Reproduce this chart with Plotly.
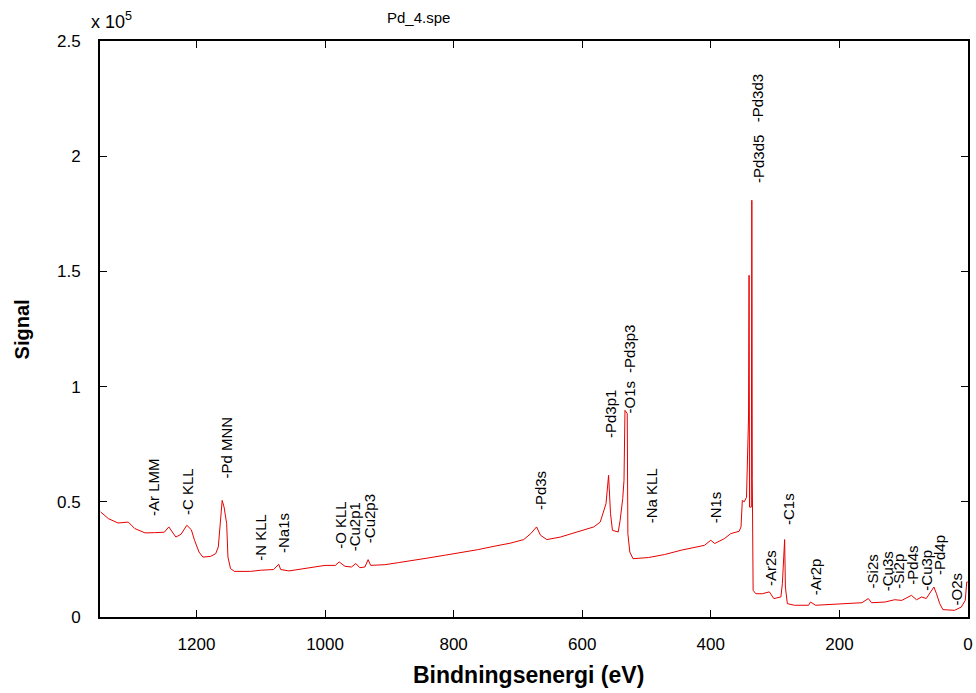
import plotly.graph_objects as go

# Spectrum: binding energy (eV) and signal (counts)
energy = [1349, 1337, 1322, 1306, 1296, 1280, 1265, 1250, 1243, 1237, 1232, 1224,
          1215, 1208, 1203, 1196, 1190, 1178, 1170, 1166, 1163, 1160, 1157, 1153,
          1151, 1147, 1141, 1116, 1100, 1080, 1072, 1069, 1056, 1041, 1020, 1000,
          984, 978, 969, 959, 952, 946, 938, 933, 929, 907, 886, 866, 840, 814,
          789, 763, 737, 711, 691, 680, 671, 665, 655, 634, 608, 582, 572, 567,
          563, 559, 558, 556, 553, 544, 541, 537, 535, 533.5, 530, 529, 526, 521,
          497, 472, 446, 420, 410, 400, 394, 379, 369, 356, 353, 351, 348, 344.5,
          341.3, 340.5, 339.8, 337, 336.2, 335.5, 334.2, 330, 320, 309, 302, 291,
          288.7, 285.2, 284, 281, 270, 248, 245, 237, 211, 186, 165, 155, 150,
          129, 114, 103, 88, 80, 72, 65, 57, 53, 49, 44, 39, 21, 10.5, 4.3, 1.9, 0.5]
signal = [45600, 42700, 40800, 41200, 38400, 36500, 36600, 36800, 39100, 36900, 34700, 35900,
          39800, 37900, 33300, 28200, 26000, 26300, 27500, 30400, 40500, 50600, 47700, 40500,
          26000, 21000, 19800, 19800, 20300, 20600, 22900, 20600, 20000, 20600, 21700, 22400,
          22400, 23900, 22000, 21700, 23200, 21400, 21700, 24900, 22400, 22700, 23600, 24600, 25600, 26800,
          27900, 29200, 30700, 32100, 33600, 36200, 39100, 35500, 33600, 34700, 36900, 39100, 41200, 46300,
          49200, 61500, 55000, 44900, 37600, 36900, 42000, 51400, 59300, 89700, 88300, 36200, 28200, 25300,
          25800, 27100, 29000, 30400, 31100, 33300, 31900, 34000, 36200, 37200, 39100, 50600, 50000, 52000,
          86800, 148300, 47700, 47700, 180900, 60000, 11600, 10100, 10100, 10900, 8000, 8700,
          14500, 33600, 13000, 5800, 5100, 5100, 6500, 5100, 5500, 5800, 6200, 8000, 6200,
          6500, 7500, 7200, 9400, 7500, 8700, 8000, 11600, 13000, 10100, 5800, 3200, 2900, 4300, 7200, 15200, 15200]

# Peak labels: text, energy position, bottom of label (counts)
label_text = ["-Ar LMM", "-C KLL", "-Pd MNN", "-N KLL", "-Na1s", "-O KLL", "-Cu2p1", "-Cu2p3",
              "-Pd3s", "-Pd3p1", "-O1s", "-Pd3p3", "-Na KLL", "-N1s", "-Pd3d5", "-Pd3d3",
              "-C1s", "-Ar2s", "-Ar2p", "-Si2s", "-Cu3s", "-Si2p", "-Pd4s", "-Cu3p", "-Pd4p", "-O2s"]
label_energy = [1266.6, 1214.1, 1153.8, 1099.7, 1065.7, 975.9, 954.3, 929.6,
                663.8, 555.6, 526.3, 526.3, 492.3, 393.4, 326.9, 326.9,
                279.0, 308.3, 237.3, 149.1, 126.0, 107.4, 85.8, 64.1, 44.1, 17.8]
label_base = [42800, 43300, 59300, 23700, 26800, 28500, 27600, 31100,
              45400, 76700, 87500, 104900, 39800, 39800, 187400, 213800,
              38900, 12500, 8500, 11600, 10300, 11600, 13300, 10700, 17200, 4200]

x_ticks = [0, 200, 400, 600, 800, 1000, 1200]
y_ticks = [0, 50000, 100000, 150000, 200000, 250000]
y_ticktext = ["0", "0.5", "1", "1.5", "2", "2.5"]

FONT = "Liberation Sans, Arial, sans-serif"

fig = go.Figure()
fig.add_trace(go.Scatter(x=energy, y=signal, mode="lines",
                         line=dict(color="#e60000", width=1), showlegend=False,
                         hoverinfo="skip"))

annotations = []
for t, e, b in zip(label_text, label_energy, label_base):
    annotations.append(dict(x=e, y=b, xref="x", yref="y", text=t, showarrow=False,
                            textangle=-90, xanchor="center", yanchor="bottom",
                            font=dict(family=FONT, size=15, color="black")))

L, R, T, B = 100, 3, 41, 76
W, H = 976, 693
pw, ph = W - L - R, H - T - B

def px(x):
    return (x - L) / pw

def py(y):
    return (H - B - y) / ph

annotations += [
    dict(x=px(420), y=py(18), xref="paper", yref="paper", text="Pd_4.spe", showarrow=False,
         xanchor="center", yanchor="middle", font=dict(family=FONT, size=15, color="black")),
    dict(x=px(89), y=py(34), xref="paper", yref="paper", text="x 10<sup>5</sup>", showarrow=False,
         xanchor="left", yanchor="bottom", font=dict(family=FONT, size=18, color="black")),
    dict(x=px(22), y=py(329), xref="paper", yref="paper", text="<b>Signal</b>", showarrow=False,
         textangle=-90, xanchor="center", yanchor="middle", font=dict(family=FONT, size=20, color="black")),
    dict(x=px(531), y=py(675), xref="paper", yref="paper", text="<b>Bindningsenergi (eV)</b>",
         showarrow=False, xanchor="center", yanchor="middle",
         font=dict(family=FONT, size=23, color="black")),
]

fig.update_layout(
    width=W, height=H,
    margin=dict(l=L, r=R, t=T, b=B, pad=0),
    paper_bgcolor="white", plot_bgcolor="white",
    font=dict(family=FONT, size=17, color="black"),
    annotations=annotations,
    xaxis=dict(range=[1350, 0], autorange=False, tickvals=x_ticks, ticks="inside", ticklen=7,
               tickwidth=1, tickcolor="black", showline=True, linecolor="black", linewidth=2,
               mirror="ticks", showgrid=False, zeroline=False, ticklabelstandoff=11,
               tickfont=dict(family=FONT, size=17)),
    yaxis=dict(range=[0, 250000], autorange=False, tickvals=y_ticks, ticktext=y_ticktext,
               ticks="inside", ticklen=7, tickwidth=1, tickcolor="black", showline=True,
               linecolor="black", linewidth=2, mirror="ticks", showgrid=False, zeroline=False,
               ticklabelstandoff=14, tickfont=dict(family=FONT, size=17)),
)

fig.write_html("out.html")
